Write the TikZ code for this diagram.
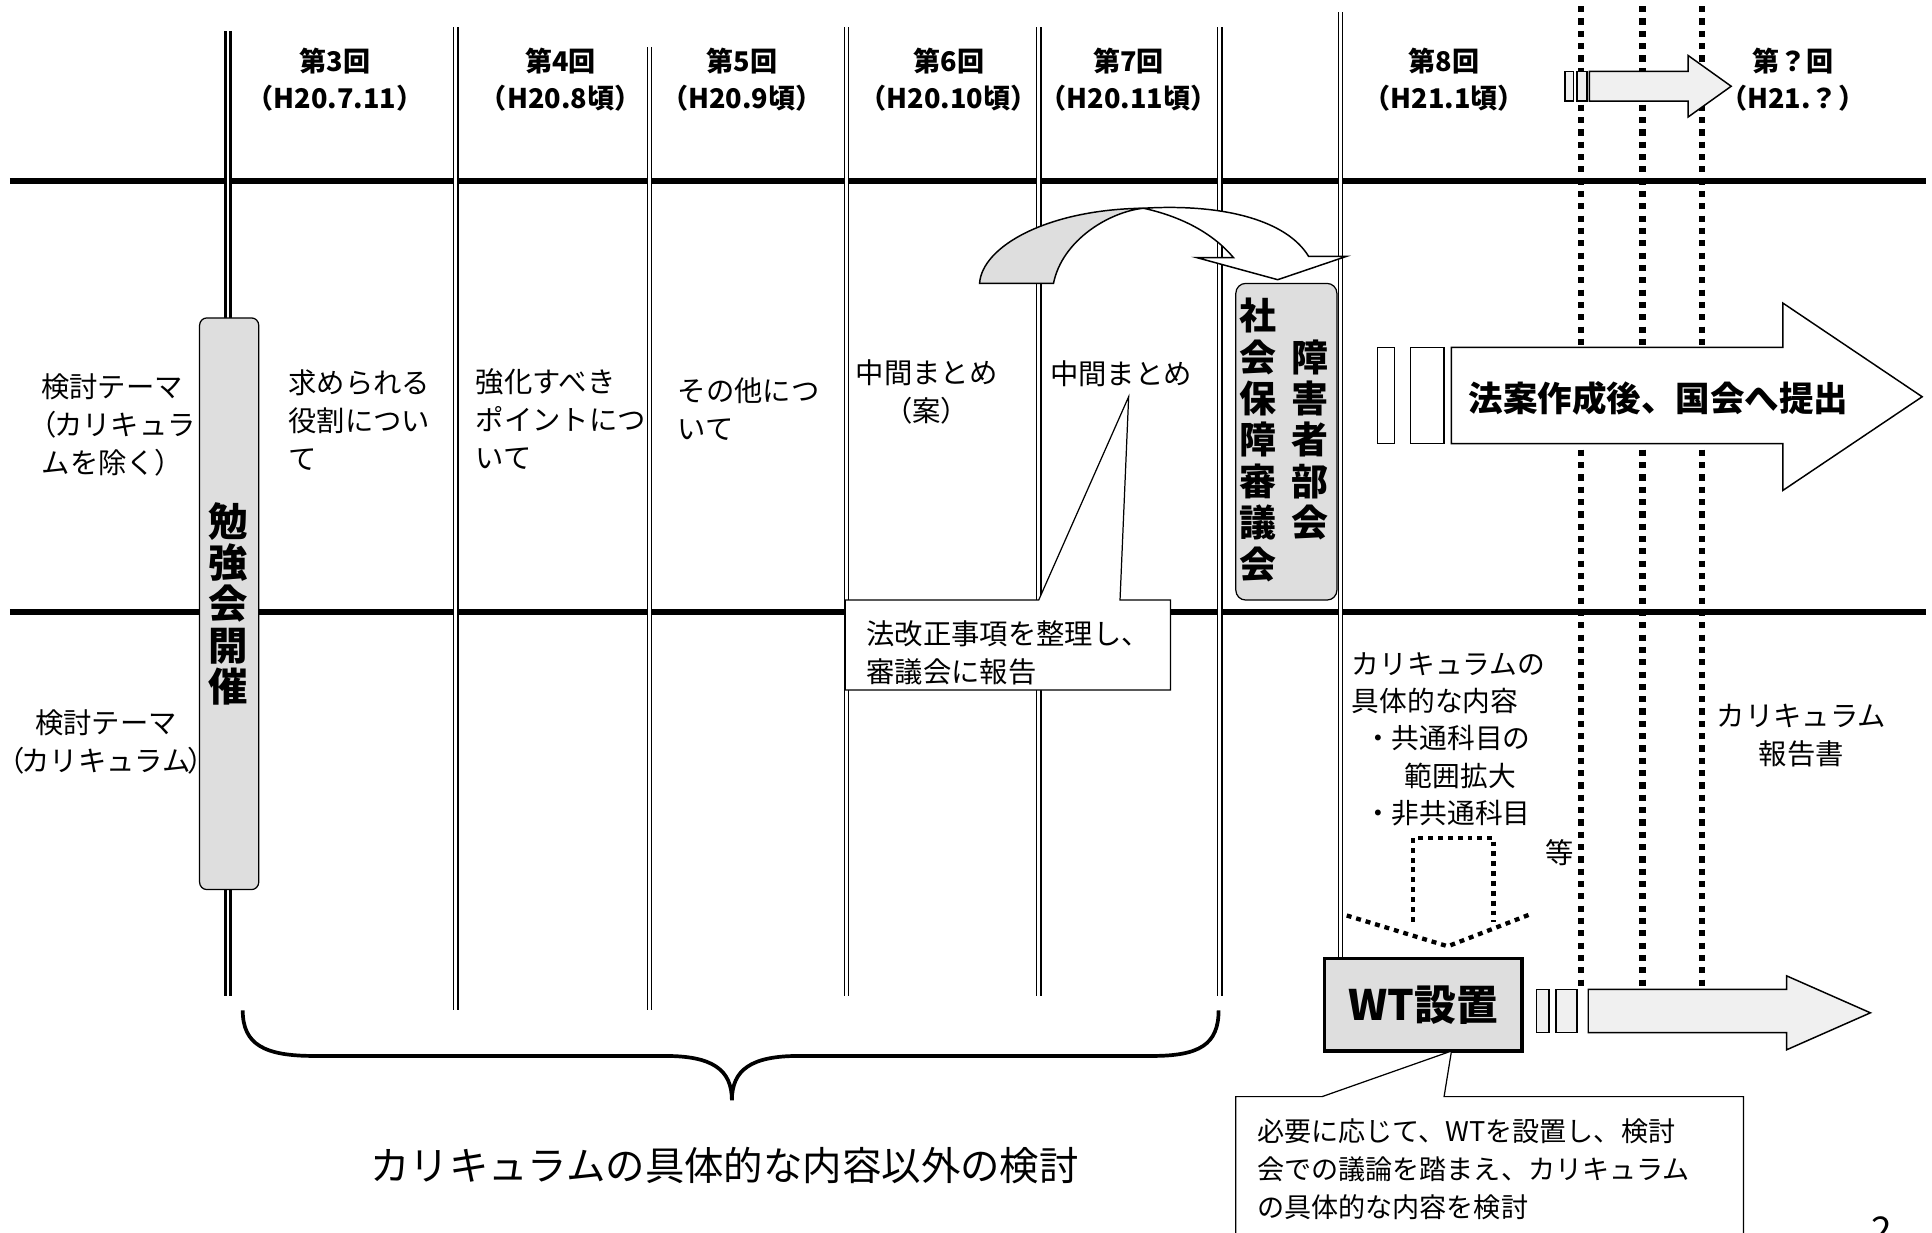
\documentclass[tikz,border=0pt]{standalone}
\usepackage{fontspec}
\setmainfont{Noto Sans CJK JP}
\tikzset{
  colline/.style={double, double distance=2.4pt, line width=1.1pt},
  rowline/.style={line width=5pt},
  dotline/.style={line width=5pt, dash pattern=on 5pt off 5pt},
  txt/.style={inner sep=0pt, font=\fontsize{23}{31}\selectfont, align=left},
  hdr/.style={inner sep=0pt, font=\fontsize{22}{30}\selectfont\bfseries, align=center},
  bigtxt/.style={inner sep=0pt, font=\fontsize{32}{33.5}\selectfont\bfseries, align=center},
  graybox/.style={draw, line width=1pt, fill=black!13},
  lightbox/.style={draw, line width=1.2pt, fill=black!6},
}
\begin{document}
\begin{tikzpicture}[x=1pt,y=-1pt]
  \useasboundingbox (0,0) rectangle (1568,1000);
  \draw[rowline] (8,147) -- (1563,147);
  \draw[rowline] (8,497) -- (1563,497);
  \draw[colline, line width=2pt, double distance=2pt] (185,25) -- (185,808);
  \draw[colline] (370,22) -- (370,820);
  \draw[colline] (527,38) -- (527,820);
  \draw[colline] (687,22) -- (687,808);
  \draw[colline] (843,22) -- (843,808);
  \draw[colline] (990,22) -- (990,808);
  \draw[colline] (1088,10) -- (1088,778);
  \foreach \x in {1283,1333,1381}
    \draw[dotline] (\x,5) -- (\x,800);

  % headers
  \node[hdr] (h3) at (272,65) {第3回\\（H20.7.11）};
  \node[hdr] (h4) at (455,65) {第4回\\（H20.8頃）};
  \node[hdr] (h5) at (602,65) {第5回\\（H20.9頃）};
  \node[hdr] (h6) at (770,65) {第6回\\（H20.10頃）};
  \node[hdr] (h7) at (916,65) {第7回\\（H20.11頃）};
  \node[hdr] (h8) at (1172,65) {第8回\\（H21.1頃）};
  \node[hdr] (h9) at (1455,65) {第？回\\（H21.？）};
  \draw[lightbox] (1270,58) rectangle (1277,82);
  \draw[lightbox] (1280,58) rectangle (1288,82);
  \draw[lightbox] (1290,58) -- (1370,58) -- (1370,45) -- (1405,70) -- (1370,95) -- (1370,82) -- (1290,82) -- cycle;

  \node[txt, align=center] (themeA) at (91,345) {検討テーマ\\（\kern-2pt カリキュラ\\ムを除く\kern-1pt）};
  \node[txt, align=center] (themeB) at (86,602) {検討テーマ\\（\kern-2.5pt カリキュラム\kern-2.5pt）};

  \draw[graybox, rounded corners=6pt] (162,258) rectangle (210,722);
  \node[bigtxt] (study) at (185,490) {勉\\強\\会\\開\\催};

  \node[txt, anchor=west] (r3) at (234,341) {求められる\\役割につい\\て};
  \node[txt, anchor=west] (r4) at (386,340) {強化すべき\\ポイントにつ\\いて};
  \node[txt, anchor=west] (r5) at (550,332) {その他につ\\いて};
  \node[txt, align=center] (r6) at (752,318) {中間まとめ\\（案）};
  \node[txt, anchor=west] (r7) at (852,303) {中間まとめ};

  % curved arrow to the council
  \draw[graybox, line width=1.2pt] (795,230) .. controls (797,200) and (850,170) .. (928,169)
    .. controls (900,172) and (862,195) .. (855,230) -- cycle;
  \draw[line width=1.2pt, fill=white] (928,169) .. controls (996,165) and (1045,180) .. (1062,208)
    -- (1093,208) -- (1037,227) -- (971,209) -- (1001,209)
    .. controls (985,190) and (960,176) .. (928,169) -- cycle;

  \draw[graybox, rounded corners=8pt] (1003,230) rectangle (1085,487);
  \node[bigtxt, font=\fontsize{30}{33.6}\selectfont\bfseries] (council) at (1021,357) {社\\会\\保\\障\\審\\議\\会};
  \node[bigtxt, font=\fontsize{30}{33.6}\selectfont\bfseries] (section) at (1063,357) {障\\害\\者\\部\\会};

  \draw[line width=1pt, fill=white] (1118,282) rectangle (1132,360);
  \draw[line width=1pt, fill=white] (1145,282) rectangle (1172,360);
  \draw[line width=1.2pt, fill=white] (1178,282) -- (1447,282) -- (1447,246) -- (1560,322)
    -- (1447,398) -- (1447,360) -- (1178,360) -- cycle;
  \node[txt, font=\fontsize{28}{30}\selectfont\bfseries] (bill) at (1346,323) {法案作成後、国会へ提出};

  % callout to the council
  \coordinate (tipA) at (916,322);
  \draw[line width=1pt, fill=white] (686,487) -- (843,487) -- (tipA) -- (909,487) -- (950,487)
    -- (950,560) -- (686,560) -- cycle;
  \node[txt, anchor=west] (report) at (703,530) {法改正事項を整理し、\\審議会に報告};

  % curriculum
  \node[txt, anchor=west, font=\fontsize{22.5}{30.3}\selectfont] (curr) at (1097,600)
    {カリキュラムの\\具体的な内容\\\hspace*{10pt}・共通科目の\\\hspace*{43pt}範囲拡大\\\hspace*{10pt}・非共通科目};
  \node[txt] (etc) at (1266,692) {等};
  \node[txt, align=center] (book) at (1462,597) {カリキュラム\\報告書};

  \draw[dotline, line width=3.5pt, dash pattern=on 4pt off 4pt] (1147,748) -- (1147,680) -- (1212,680) -- (1212,748);
  \draw[dotline, line width=3.5pt, dash pattern=on 4pt off 4pt] (1093,743) -- (1175,768) -- (1242,742);

  \draw[line width=3pt, fill=black!13] (1075,778) rectangle (1235,853);
  \node[bigtxt, font=\fontsize{34}{36}\selectfont\bfseries] (wt) at (1155,816) {WT設置};
  \draw[lightbox] (1247,803) rectangle (1257,838);
  \draw[lightbox] (1263,803) rectangle (1280,838);
  \draw[lightbox] (1289,803) -- (1450,803) -- (1450,792) -- (1518,822) -- (1450,852) -- (1450,838)
    -- (1289,838) -- cycle;

  % callout to WT
  \coordinate (tipB) at (1178,853);
  \draw[line width=1pt, fill=white] (1003,890) -- (1073,890) -- (tipB) -- (1172,890) -- (1415,890)
    -- (1415,1010) -- (1003,1010) -- cycle;
  \node[txt, anchor=west, font=\fontsize{22}{31}\selectfont] (wtnote) at (1020,949)
    {必要に応じて、WTを設置し、検討\\会での議論を踏まえ、カリキュラム\\の具体的な内容を検討};

  % brace
  \draw[line width=3pt] (197,820) .. controls (197,848) and (215,857) .. (255,857) -- (540,857)
    .. controls (578,857) and (594,868) .. (594,893)
    .. controls (594,868) and (610,857) .. (648,857) -- (935,857)
    .. controls (973,857) and (989,848) .. (989,820);
  \node[txt, font=\fontsize{32}{34}\selectfont] (other) at (588,946) {カリキュラムの具体的な内容以外の検討};
  \node[txt, font=\fontsize{30}{30}\selectfont] (page) at (1527,998) {2};
\end{tikzpicture}
\end{document}
